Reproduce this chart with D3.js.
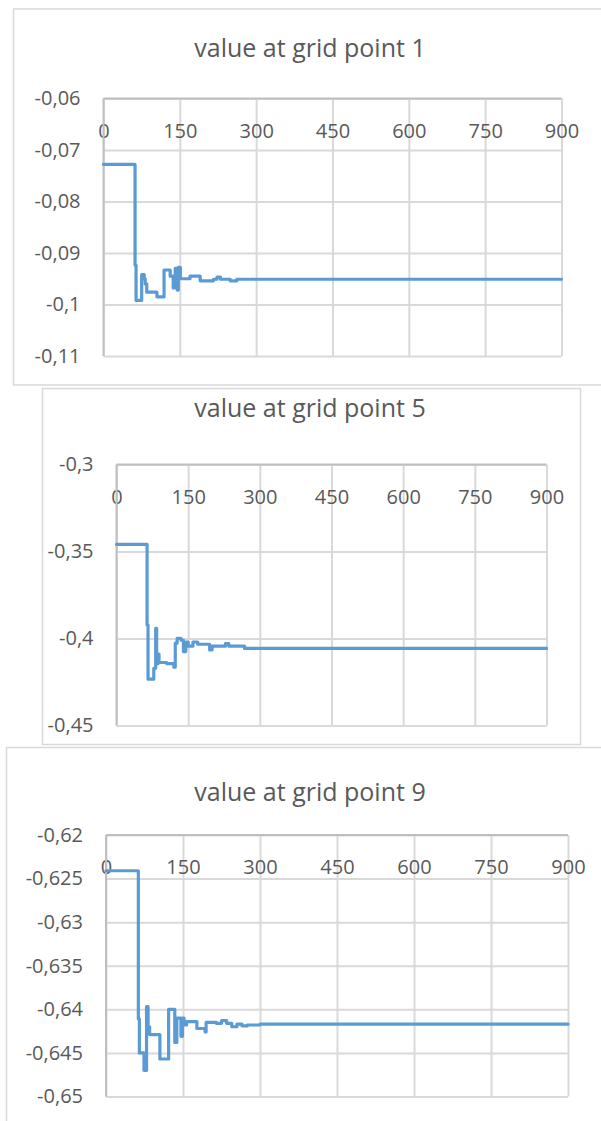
<!DOCTYPE html>
<html>
<head>
<meta charset="utf-8">
<script src="https://cdn.jsdelivr.net/npm/d3@7"></script>
<style>
  body { margin: 0; background: #fff; }
  text { font-family: "Open Sans", sans-serif; fill: #595959; }
</style>
</head>
<body>
<div id="container"></div>
<script>
/* DATA */
const titles = ["value at grid point 1", "value at grid point 5", "value at grid point 9"];
const xTicks = [0, 150, 300, 450, 600, 750, 900];

const yTicks1 = [-0.06, -0.07, -0.08, -0.09, -0.1, -0.11];
const yTicks5 = [-0.3, -0.35, -0.4, -0.45];
const yTicks9 = [-0.62, -0.625, -0.63, -0.635, -0.64, -0.645, -0.65];

// iteration where the value changes, and the value from there on
const iter1 = [0, 62, 64, 75, 80, 82, 85, 105, 119, 131, 137, 141, 145, 147, 151, 170, 190, 216, 223, 230, 249, 262, 900];
const val1 = [-0.0728, -0.0924, -0.0992, -0.0942, -0.0950, -0.0960, -0.0976, -0.0985, -0.0933, -0.0945, -0.0968, -0.0930, -0.0972, -0.0928, -0.0950, -0.0945, -0.0954, -0.0951, -0.0947, -0.0951, -0.0954, -0.0951, -0.0951];

const iter5 = [0, 64, 66, 78, 82, 84, 87, 89, 105, 120, 123, 127, 135, 140, 145, 150, 160, 170, 195, 200, 228, 235, 268, 900];
const val5 = [-0.3459, -0.3922, -0.4234, -0.4171, -0.3941, -0.4144, -0.4090, -0.4138, -0.4144, -0.4165, -0.4027, -0.3999, -0.4010, -0.4075, -0.4021, -0.4044, -0.4020, -0.4033, -0.4066, -0.4044, -0.4029, -0.4044, -0.4057, -0.4057];

const iter9 = [0, 63, 65, 74, 79, 82, 85, 105, 122, 134, 138, 146, 149, 152, 157, 177, 193, 195, 215, 225, 235, 245, 255, 265, 275, 300, 900];
const val9 = [-0.6241, -0.6411, -0.6450, -0.6470, -0.6397, -0.6420, -0.6429, -0.6457, -0.6400, -0.6438, -0.6410, -0.6431, -0.6410, -0.6418, -0.6414, -0.6422, -0.6426, -0.6415, -0.6416, -0.6413, -0.6416, -0.6420, -0.6417, -0.6419, -0.6418, -0.6417, -0.6417];

/* LAYOUT */
const width = 601;
const height = 1121;

const panels = [
  { title: titles[0], iters: iter1, vals: val1, yTicks: yTicks1,
    frame: { x: 13.5, y: 9, w: 600, h: 376 }, plot: { l: 103.5, r: 561.5, t: 98.5, b: 356 }, titleY: 57 },
  { title: titles[1], iters: iter5, vals: val5, yTicks: yTicks5,
    frame: { x: 42.5, y: 388.5, w: 538, h: 356 }, plot: { l: 116.5, r: 546.5, t: 464.5, b: 725.5 }, titleY: 417 },
  { title: titles[2], iters: iter9, vals: val9, yTicks: yTicks9,
    frame: { x: 6.5, y: 747.5, w: 600, h: 400 }, plot: { l: 106, r: 568, t: 835, b: 1096.5 }, titleY: 801 }
];

// excel style numbers: comma decimal, plain hyphen
const fmt = d3.formatLocale({ decimal: ",", thousands: ".", grouping: [3], currency: ["", ""], minus: "-" }).format("~g");

const svg = d3.select("#container")
  .append("svg")
  .attr("width", width)
  .attr("height", height);

panels.forEach(p => {
  const g = svg.append("g");

  // chart frame
  g.append("rect")
    .attr("x", p.frame.x)
    .attr("y", p.frame.y)
    .attr("width", p.frame.w)
    .attr("height", p.frame.h)
    .attr("fill", "#fff")
    .attr("stroke", "#d9d9d9")
    .attr("stroke-width", 1.5);

  // title
  g.append("text")
    .attr("x", 310)
    .attr("y", p.titleY)
    .attr("text-anchor", "middle")
    .style("font-size", "25px")
    .text(p.title);

  /* SCALES */
  const xScale = d3.scaleLinear()
    .domain([0, 900])
    .range([p.plot.l, p.plot.r]);

  const yScale = d3.scaleLinear()
    .domain([d3.min(p.yTicks), d3.max(p.yTicks)])
    .range([p.plot.b, p.plot.t]);

  const plotW = p.plot.r - p.plot.l;
  const plotH = p.plot.b - p.plot.t;

  // horizontal gridlines
  g.append("g")
    .attr("class", "y-grid")
    .attr("transform", `translate(${p.plot.l},0)`)
    .call(d3.axisRight(yScale).tickValues(p.yTicks).tickSize(plotW).tickFormat(""))
    .call(s => s.select(".domain").remove())
    .call(s => s.selectAll("line").attr("stroke", "#d9d9d9").attr("stroke-width", 2));

  // vertical gridlines
  g.append("g")
    .attr("class", "x-grid")
    .attr("transform", `translate(0,${p.plot.t})`)
    .call(d3.axisBottom(xScale).tickValues(xTicks).tickSize(plotH).tickFormat(""))
    .call(s => s.select(".domain").remove())
    .call(s => s.selectAll("line").attr("stroke", "#d9d9d9").attr("stroke-width", 2));

  // y labels
  g.append("g")
    .attr("class", "y-axis")
    .attr("transform", `translate(${p.plot.l},0)`)
    .call(d3.axisLeft(yScale).tickValues(p.yTicks).tickSize(0).tickPadding(23).tickFormat(fmt))
    .call(s => s.select(".domain").remove())
    .call(s => s.selectAll("text").style("font-size", "20px").attr("fill", "#595959"));

  // x labels sit under the top axis line
  g.append("g")
    .attr("class", "x-axis")
    .attr("transform", `translate(0,${p.plot.t})`)
    .call(d3.axisBottom(xScale).tickValues(xTicks).tickSize(0).tickFormat(d3.format("d")))
    .call(s => s.select(".domain").remove())
    .call(s => s.selectAll("text").attr("y", 32).attr("dy", "0.35em")
      .style("font-size", "20px").attr("fill", "#595959"));

  // axis lines
  g.append("line")
    .attr("x1", p.plot.l).attr("x2", p.plot.r)
    .attr("y1", p.plot.t).attr("y2", p.plot.t)
    .attr("stroke", "#bfbfbf").attr("stroke-width", 2);
  g.append("line")
    .attr("x1", p.plot.l).attr("x2", p.plot.l)
    .attr("y1", p.plot.t).attr("y2", p.plot.b)
    .attr("stroke", "#bfbfbf").attr("stroke-width", 2);

  // the series
  const points = p.iters.map((it, i) => [it, p.vals[i]]);
  const line = d3.line()
    .x(d => xScale(d[0]))
    .y(d => yScale(d[1]))
    .curve(d3.curveStepAfter);

  g.append("path")
    .datum(points)
    .attr("fill", "none")
    .attr("stroke", "#5b9bd5")
    .attr("stroke-width", 3.2)
    .attr("stroke-linejoin", "round")
    .attr("stroke-linecap", "round")
    .attr("d", line);
});
</script>
</body>
</html>
